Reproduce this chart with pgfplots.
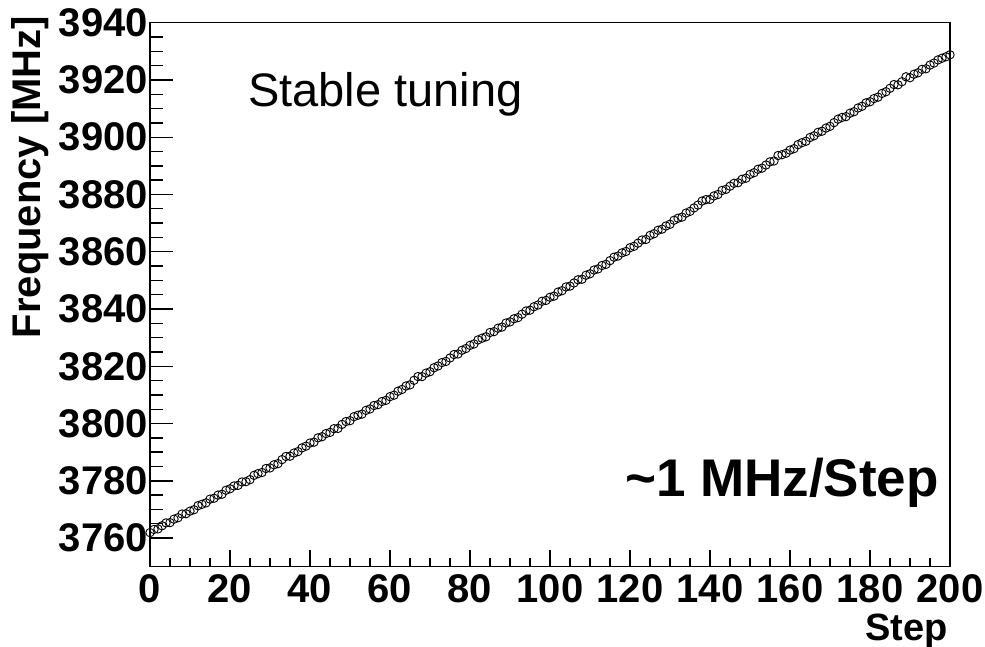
\documentclass[border=0pt]{standalone}
\usepackage{fontspec}
\setmainfont{Liberation Sans}
\usepackage{pgfplots}
\pgfplotsset{compat=1.18}
\usepackage{pgfplotstable}

% Measured oscillator frequency after each tuning step
\pgfplotstableread{
step freq
0 3761.9
1 3763.0
2 3763.2
3 3764.3
4 3765.3
5 3765.4
6 3766.6
7 3767.1
8 3768.4
9 3768.5
10 3769.4
11 3769.9
12 3771.3
13 3771.8
14 3772.3
15 3773.6
16 3773.9
17 3775.0
18 3775.3
19 3776.7
20 3777.2
21 3778.2
22 3778.4
23 3779.6
24 3779.7
25 3780.4
26 3781.9
27 3782.5
28 3782.9
29 3784.3
30 3784.5
31 3785.6
32 3786.0
33 3787.4
34 3788.5
35 3788.6
36 3789.7
37 3790.2
38 3791.5
39 3792.1
40 3793.2
41 3793.5
42 3795.0
43 3795.4
44 3796.5
45 3796.9
46 3798.2
47 3798.3
48 3799.7
49 3800.7
50 3801.0
51 3802.4
52 3802.9
53 3803.3
54 3804.6
55 3805.1
56 3806.3
57 3806.6
58 3807.7
59 3808.1
60 3809.4
61 3809.9
62 3811.3
63 3811.9
64 3813.1
65 3813.5
66 3815.1
67 3816.4
68 3816.4
69 3817.6
70 3818.1
71 3819.5
72 3820.1
73 3821.3
74 3821.7
75 3822.9
76 3824.1
77 3824.3
78 3825.6
79 3826.2
80 3827.3
81 3827.8
82 3829.2
83 3829.8
84 3830.3
85 3831.8
86 3832.1
87 3833.3
88 3833.7
89 3835.1
90 3835.5
91 3836.6
92 3837.0
93 3838.2
94 3839.3
95 3839.6
96 3840.8
97 3841.4
98 3842.7
99 3843.0
100 3844.1
101 3844.5
102 3845.9
103 3846.4
104 3847.7
105 3848.0
106 3849.1
107 3850.2
108 3850.4
109 3851.8
110 3852.3
111 3853.6
112 3854.0
113 3855.2
114 3855.6
115 3856.9
116 3858.1
117 3858.5
118 3859.6
119 3860.1
120 3861.4
121 3861.9
122 3863.0
123 3864.1
124 3864.3
125 3865.7
126 3866.3
127 3867.5
128 3867.9
129 3869.0
130 3869.6
131 3871.0
132 3871.7
133 3872.1
134 3873.5
135 3874.1
136 3875.3
137 3876.3
138 3877.7
139 3878.2
140 3878.3
141 3879.5
142 3880.0
143 3881.4
144 3881.8
145 3882.9
146 3883.9
147 3884.1
148 3885.3
149 3885.7
150 3887.0
151 3887.6
152 3888.8
153 3889.2
154 3890.3
155 3891.4
156 3891.7
157 3893.6
158 3893.9
159 3894.4
160 3895.5
161 3896.0
162 3897.4
163 3898.1
164 3898.6
165 3899.9
166 3900.5
167 3901.7
168 3902.1
169 3903.2
170 3903.8
171 3905.1
172 3906.3
173 3906.9
174 3907.2
175 3908.4
176 3908.9
177 3910.2
178 3910.8
179 3912.0
180 3912.4
181 3913.5
182 3914.0
183 3915.3
184 3915.9
185 3917.1
186 3918.4
187 3918.3
188 3919.4
189 3921.1
190 3920.8
191 3922.0
192 3922.5
193 3923.7
194 3923.9
195 3925.2
196 3925.9
197 3927.0
198 3927.6
199 3928.1
200 3928.8
}\tuning

\pgfplotsset{
  frame/.style={
    at={(0,0)}, anchor=south west,
    scale only axis, width=800pt, height=544pt,
    xmin=0, xmax=200, ymin=3750, ymax=3940,
    minor tick num=3,
    tick pos=left, tick align=inside,
    axis line style={line width=1.4pt},
    every tick/.style={line width=1.4pt, black},
    /pgf/number format/assume math mode=true,
    /pgf/number format/1000 sep={},
    ticklabel style={font=\fontsize{40}{40}\selectfont\bfseries},
  },
}

\begin{document}
\begin{tikzpicture}
\useasboundingbox (-150pt,-80.3pt) rectangle (835pt,566.7pt);
% x axis: frame, shorter ticks, and the data
\begin{axis}[frame,
  xtick={0,20,...,200}, ytick=\empty,
  major tick length=17pt, minor tick length=8.5pt,
  xticklabel style={inner ysep=2pt, yshift=-6pt},
]
\addplot[only marks, mark=o, mark size=4.2pt, mark options={line width=0.9pt, black}]
  table[x=step, y=freq] {\tuning};
\end{axis}
% y axis: longer ticks and labels on the same frame
\begin{axis}[frame,
  xtick=\empty, ytick={3760,3780,...,3940},
  major tick length=23pt, minor tick length=13pt,
  yticklabel style={inner xsep=2pt},
]
\end{axis}
% axis titles, right-aligned as on the frame
\node[rotate=90, anchor=east, font=\fontsize{40}{40}\selectfont\bfseries, inner sep=0pt]
  at (-120pt, 551pt) {Frequency [MHz]};
\node[anchor=base east, font=\fontsize{38}{38}\selectfont\bfseries, inner sep=0pt]
  at (798pt, -73.5pt) {Step};
% annotations
\node[anchor=base west, font=\fontsize{47}{47}\selectfont, inner sep=0pt]
  at (98pt, 460pt) {Stable tuning};
\node[anchor=base east, font=\fontsize{53}{53}\selectfont\bfseries, inner sep=0pt]
  at (789pt, 70pt) {\textasciitilde 1 MHz/Step};
\end{tikzpicture}
\end{document}
